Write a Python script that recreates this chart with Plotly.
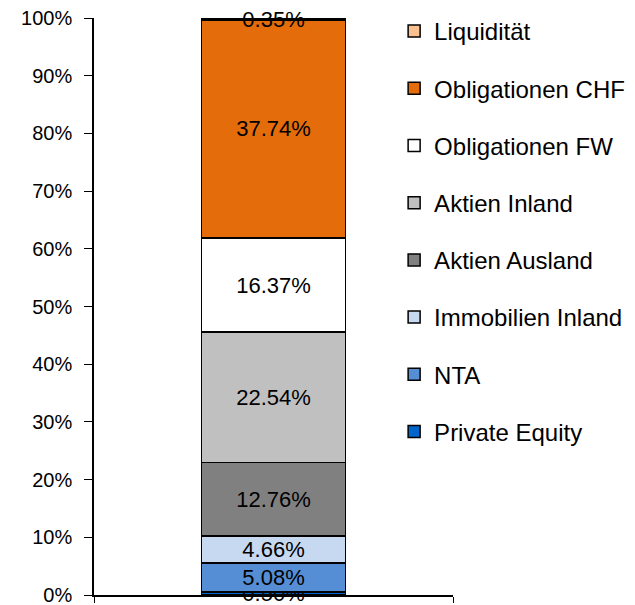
import plotly.graph_objects as go

categories = [""]
series_names = ["Private Equity", "NTA", "Immobilien Inland", "Aktien Ausland",
                "Aktien Inland", "Obligationen FW", "Obligationen CHF", "Liquidität"]
series_values = [0.50, 5.08, 4.66, 12.76, 22.54, 16.37, 37.74, 0.35]
colors = ["#0066CC", "#558ED5", "#C6D9F1", "#808080",
          "#C0C0C0", "#FFFFFF", "#E46C0A", "#FAC090"]
tick_vals = [0, 10, 20, 30, 40, 50, 60, 70, 80, 90, 100]
tick_text = [f"{v}%" for v in tick_vals]

FONT = "Liberation Sans, Arial, sans-serif"

n = len(series_names)
fig = go.Figure()
for i, (name, val, col) in enumerate(zip(series_names, series_values, colors)):
    fig.add_trace(go.Bar(
        x=categories, y=[val], name=name, legendgroup=name,
        legendrank=n - i,
        marker=dict(color=col, line=dict(color="#000000", width=1.5)),
        text=[f"{val:.2f}%"], textposition="inside", insidetextanchor="middle",
        textfont=dict(family=FONT, size=22, color="#000000"),
        width=0.4, hoverinfo="skip", cliponaxis=False,
    ))

# page body adds an 8px offset, so the figure is 8px smaller and margins shifted
fig.update_layout(
    barmode="stack",
    width=627, height=597,
    margin=dict(l=86, r=182, t=10, b=10, autoexpand=False),
    plot_bgcolor="#FFFFFF", paper_bgcolor="#FFFFFF",
    font=dict(family=FONT, size=20, color="#000000"),
    uniformtext=dict(minsize=22, mode="show"),
    showlegend=True,
    legend=dict(x=0.836, y=1.0156, xanchor="left", yanchor="top",
                traceorder="grouped", tracegroupgap=23,
                font=dict(family=FONT, size=24, color="#000000"),
                itemwidth=30, bgcolor="rgba(0,0,0,0)", maxheight=590),
    xaxis=dict(showline=True, linecolor="#000000", linewidth=1.5,
               ticks="outside", tickson="boundaries", ticklen=6,
               tickcolor="#000000", showticklabels=False, showgrid=False,
               zeroline=False),
    yaxis=dict(range=[0, 100], tickvals=tick_vals, ticktext=tick_text,
               showline=True, linecolor="#000000", linewidth=1.5,
               ticks="outside", ticklen=8, tickcolor="#000000",
               ticklabelstandoff=8, ticklabeloverflow="allow",
               showgrid=False, zeroline=False,
               tickfont=dict(family=FONT, size=20, color="#000000")),
)

fig.write_html("out.html")
